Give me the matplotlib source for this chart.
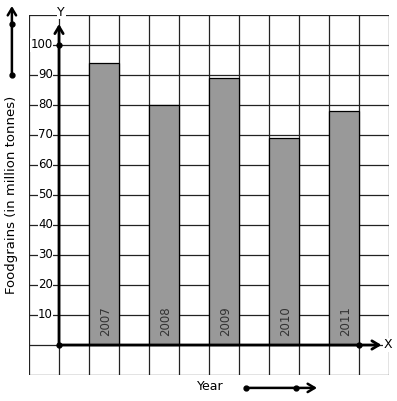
import matplotlib.pyplot as plt

years = ['2007', '2008', '2009', '2010', '2011']
foodgrains = [94, 80, 89, 69, 78]
bar_pos = [1.5, 3.5, 5.5, 7.5, 9.5]
y_ticks = [10, 20, 30, 40, 50, 60, 70, 80, 90, 100]

fig = plt.figure(figsize=(3.97, 4.01), dpi=100)
# grid box spans pixels x 29..389, y 15..375
ax = fig.add_axes([29 / 397, 26 / 401, 360 / 397, 360 / 401])
ax.set_xlim(-1, 11)
ax.set_ylim(-10, 110)

grid_c = '#222222'
for gx in range(-1, 12):
    ax.axvline(gx, color=grid_c, lw=0.9, zorder=1)
for gy in range(-10, 111, 10):
    ax.axhline(gy, color=grid_c, lw=0.9, zorder=1)
for s in ax.spines.values():
    s.set_visible(False)
ax.set_xticks([])
ax.set_yticks([])

ax.bar(bar_pos, foodgrains, width=1, color='#999999', edgecolor='black',
       linewidth=0.9, zorder=2)
for x, yr in zip(bar_pos, years):
    ax.text(x + 0.05, 3, yr, rotation=90, ha='center', va='bottom',
            fontsize=8.5, color='#333333', zorder=3)

for t in y_ticks:
    ax.text(-0.2, t, str(t), ha='right', va='center', fontsize=8.5,
            color='black', zorder=3,
            bbox=dict(facecolor='white', edgecolor='none', pad=0.3))

# axes with arrows
arrow = dict(arrowstyle='->,head_length=0.5,head_width=0.3', lw=2,
             color='black', shrinkA=0, shrinkB=0)
ax.annotate('', xy=(0, 107), xytext=(0, 0), arrowprops=arrow, zorder=4)
ax.annotate('', xy=(10.75, 0), xytext=(0, 0), arrowprops=arrow, zorder=4)
ax.plot([0, 0, 10], [0, 100, 0], 'o', color='black', ms=3.5, zorder=5)
ax.text(0.07, 111, 'Y', ha='center', va='center', fontsize=9,
        bbox=dict(facecolor='white', edgecolor='none', pad=0.5), zorder=5)
ax.text(10.97, 0, 'X', ha='center', va='center', fontsize=9,
        bbox=dict(facecolor='white', edgecolor='none', pad=0.5), zorder=5)

# outside decorations
arrow2 = dict(arrowstyle='->,head_length=0.5,head_width=0.3', lw=1.8,
              color='black', shrinkA=0, shrinkB=0)
ax.annotate('', xy=(-1.57, 113), xytext=(-1.57, 90), arrowprops=arrow2,
            annotation_clip=False)
ax.plot([-1.57, -1.57], [90, 107], 'o', color='black', ms=3.5, clip_on=False)
ax.text(-1.57, 50, 'Foodgrains (in million tonnes)', rotation=90,
        ha='center', va='center', fontsize=9.5)

ax.annotate('', xy=(8.6, -14.3), xytext=(6.23, -14.3), arrowprops=arrow2,
            annotation_clip=False)
ax.plot([6.23, 7.9], [-14.3, -14.3], 'o', color='black', ms=3.5, clip_on=False)
ax.text(5.03, -13.8, 'Year', ha='center', va='center', fontsize=9)

fig.savefig('out.png', dpi=100)
